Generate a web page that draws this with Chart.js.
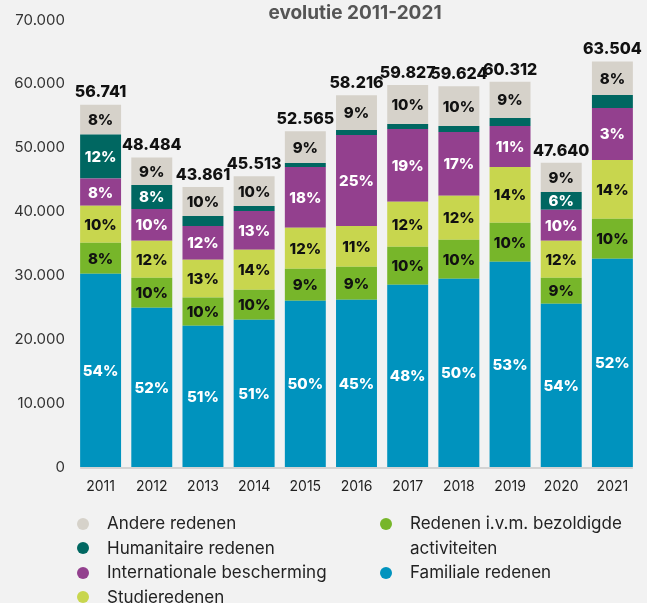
<!DOCTYPE html>
<html>
<head>
<meta charset="utf-8">
<script src="https://cdn.jsdelivr.net/npm/chart.js@4"></script>
<style>
  html, body { margin: 0; padding: 0; background: #f2f2f2; }
  #wrap { position: relative; width: 647px; height: 603px; overflow: hidden; background: #f2f2f2; font-family: Inter, "Noto Sans", sans-serif; }
  #chart { position: absolute; left: 0; top: 0; }
  #title { position: absolute; left: 0; width: 710px; top: 1px; text-align: center; font-weight: 700; font-size: 19px; color: #555; }
  .lg { position: absolute; font-size: 17px; color: #222; line-height: 24.5px; }
  .dot { position: absolute; width: 12px; height: 12px; border-radius: 50%; }
</style>
</head>
<body>
<div id="wrap">
  <canvas id="chart" width="647" height="603"></canvas>
  <div id="title">evolutie 2011-2021</div>
  <div id="legend"></div>
</div>
<script>
const years = ['2011','2012','2013','2014','2015','2016','2017','2018','2019','2020','2021'];

const familiale      = [30270, 24930, 22110, 23050, 26025, 26180, 28530, 29470, 32130, 25556, 32598];
const bezoldigd      = [4860, 4700, 4430, 4695, 5008, 5164, 5947, 6103, 6103, 4069, 6260];
const studie         = [5800, 5790, 5900, 6260, 6416, 6416, 7042, 6886, 8764, 5790, 9233];
const internationaal = [4230, 5000, 5320, 6103, 9546, 14241, 11424, 10016, 6416, 4851, 8138];
const humanitair     = [6890, 3760, 1565, 782, 626, 782, 782, 939, 1252, 2817, 2034];
const andere         = [4691, 4304, 4536, 4623, 4944, 5433, 6102, 6210, 5647, 4557, 5241];

const pctFamiliale      = [54, 52, 51, 51, 50, 45, 48, 50, 53, 54, 52];
const pctBezoldigd      = [8, 10, 10, 10, 9, 9, 10, 10, 10, 9, 10];
const pctStudie         = [10, 12, 13, 14, 12, 11, 12, 12, 14, 12, 14];
const pctInternationaal = [8, 10, 12, 13, 18, 25, 19, 17, 11, 10, 3];
const pctHumanitair     = [12, 8, null, null, null, null, null, null, null, 6, null];
const pctAndere         = [8, 9, 10, 10, 9, 9, 10, 10, 9, 9, 8];

const yTicks = [0, 10000, 20000, 30000, 40000, 50000, 60000, 70000];

const seriesNames = {
  andere: 'Andere redenen',
  humanitair: 'Humanitaire redenen',
  internationaal: 'Internationale bescherming',
  studie: 'Studieredenen',
  bezoldigd: 'Redenen i.v.m. bezoldigde activiteiten',
  familiale: 'Familiale redenen'
};
const colors = {
  andere: '#d6d2ca',
  humanitair: '#006761',
  internationaal: '#93408e',
  studie: '#c8d64e',
  bezoldigd: '#77b62a',
  familiale: '#0093be'
};

function fmt(n) {
  return String(Math.round(n)).replace(/\B(?=(\d{3})+(?!\d))/g, '.');
}

const datasets = [
  { key: 'familiale', data: familiale, pct: pctFamiliale, lc: '#ffffff' },
  { key: 'bezoldigd', data: bezoldigd, pct: pctBezoldigd, lc: '#111111' },
  { key: 'studie', data: studie, pct: pctStudie, lc: '#111111' },
  { key: 'internationaal', data: internationaal, pct: pctInternationaal, lc: '#ffffff' },
  { key: 'humanitair', data: humanitair, pct: pctHumanitair, lc: '#ffffff' },
  { key: 'andere', data: andere, pct: pctAndere, lc: '#111111' }
].map(d => ({
  label: seriesNames[d.key],
  data: d.data,
  pctLabels: d.pct,
  labelColor: d.lc,
  backgroundColor: colors[d.key],
  borderWidth: 0,
  categoryPercentage: 1.0,
  barPercentage: 0.8
}));

const labelPlugin = {
  id: 'labels',
  afterDatasetsDraw(chart) {
    const ctx = chart.ctx;
    ctx.save();
    ctx.textAlign = 'center';
    ctx.textBaseline = 'middle';
    const m0 = chart.getDatasetMeta(0);
    const first = m0.data[0], last = m0.data[m0.data.length - 1];
    ctx.strokeStyle = '#c9c9c9';
    ctx.lineWidth = 1.6;
    ctx.beginPath();
    ctx.moveTo(first.x - first.width / 2, chart.chartArea.bottom + 1);
    ctx.lineTo(last.x + last.width / 2, chart.chartArea.bottom + 1);
    ctx.stroke();

    chart.data.datasets.forEach((ds, di) => {
      const meta = chart.getDatasetMeta(di);
      meta.data.forEach((bar, i) => {
        const v = ds.pctLabels[i];
        if (v === null || v === undefined) return;
        const p = bar.getProps(['x', 'y', 'base'], true);
        ctx.fillStyle = ds.labelColor;
        ctx.font = '800 15px Inter, "Noto Sans", sans-serif';
        ctx.fillText(v + '%', p.x, (p.y + p.base) / 2 + 1);
      });
    });
    const topMeta = chart.getDatasetMeta(chart.data.datasets.length - 1);
    topMeta.data.forEach((bar, i) => {
      let total = 0;
      chart.data.datasets.forEach(ds => { total += ds.data[i]; });
      const p = bar.getProps(['x', 'y'], true);
      ctx.fillStyle = '#111111';
      ctx.font = '800 16px Inter, "Noto Sans", sans-serif';
      ctx.fillText(fmt(total), p.x, p.y - 12);
    });
    ctx.restore();
  }
};

new Chart(document.getElementById('chart'), {
  type: 'bar',
  data: { labels: years, datasets },
  options: {
    responsive: false,
    animation: false,
    layout: { padding: { left: 0, right: 9, top: 20, bottom: 96 } },
    plugins: { legend: { display: false }, title: { display: false }, tooltip: { enabled: false } },
    scales: {
      x: {
        stacked: true,
        grid: { display: false, drawTicks: false },
        border: { display: false },
        ticks: { color: '#222', font: { family: 'Inter', size: 14 }, padding: 11 },
        afterFit(axis) { axis.height = 40; }
      },
      y: {
        stacked: true,
        min: 0,
        max: 70000,
        afterBuildTicks(axis) { axis.ticks = yTicks.map(v => ({ value: v })); },
        grid: { display: false, drawTicks: false },
        border: { display: false },
        ticks: { color: '#333', font: { family: 'Inter', size: 15 }, padding: 10, callback: v => fmt(v) },
        afterFit(axis) { axis.width = 75; }
      }
    }
  },
  plugins: [labelPlugin]
});

const legendItems = [
  { key: 'andere', x: 77, y: 511, w: 300 },
  { key: 'humanitair', x: 77, y: 535.5, w: 300 },
  { key: 'internationaal', x: 77, y: 560, w: 300 },
  { key: 'studie', x: 77, y: 584.5, w: 300 },
  { key: 'bezoldigd', x: 380, y: 511, w: 240 },
  { key: 'familiale', x: 380, y: 560, w: 240 }
];
const lg = document.getElementById('legend');
legendItems.forEach(it => {
  const dot = document.createElement('div');
  dot.className = 'dot';
  dot.style.background = colors[it.key];
  dot.style.left = it.x + 'px';
  dot.style.top = (it.y + 6.5) + 'px';
  lg.appendChild(dot);
  const t = document.createElement('div');
  t.className = 'lg';
  t.style.left = (it.x + 30) + 'px';
  t.style.top = it.y + 'px';
  t.style.width = it.w + 'px';
  t.textContent = seriesNames[it.key];
  lg.appendChild(t);
});
</script>
</body>
</html>
